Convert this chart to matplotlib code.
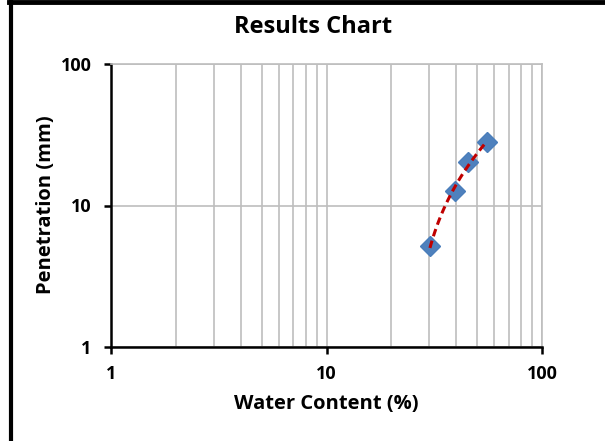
import numpy as np
import matplotlib
matplotlib.use('Agg')
import matplotlib.pyplot as plt
from matplotlib.lines import Line2D
from matplotlib.ticker import LogLocator, FixedLocator, NullFormatter

# data
water = [30.2, 39.5, 45.5, 55.4]
penetration = [5.2, 12.6, 20.3, 28.0]
x_ticks = [1, 10, 100]
y_ticks = [1, 10, 100]

plt.rcParams['font.family'] = ['Open Sans', 'DejaVu Sans']
plt.rcParams['font.weight'] = 'bold'

fig = plt.figure(figsize=(6.05, 4.41), dpi=100)
ax = fig.add_axes([111/605, 1 - 347/441, 431/605, 283/441])

ax.set_xscale('log')
ax.set_yscale('log')
ax.set_xlim(1, 100)
ax.set_ylim(1, 100)

grid_c = '#BEBEBE'
ax.xaxis.set_major_locator(FixedLocator(x_ticks))
ax.yaxis.set_major_locator(FixedLocator(y_ticks))
ax.xaxis.set_minor_locator(LogLocator(base=10, subs=np.arange(2, 10)))
ax.xaxis.set_minor_formatter(NullFormatter())
ax.yaxis.set_minor_locator(FixedLocator([]))
ax.set_xticklabels([str(t) for t in x_ticks])
ax.set_yticklabels([str(t) for t in y_ticks])
ax.grid(which='major', color=grid_c, linewidth=1.2)
ax.grid(which='minor', axis='x', color=grid_c, linewidth=1.2)
ax.set_axisbelow(True)

for s in ['top', 'right']:
    ax.spines[s].set_color(grid_c)
    ax.spines[s].set_linewidth(1.2)
for s in ['left', 'bottom']:
    ax.spines[s].set_color('black')
    ax.spines[s].set_linewidth(1.8)

ax.tick_params(which='major', direction='out', length=5, width=1.8,
               labelsize=13, colors='black')
ax.tick_params(axis='x', pad=8)
ax.tick_params(axis='y', pad=9)
ax.tick_params(which='minor', length=0)
for lab in ax.get_xticklabels() + ax.get_yticklabels():
    lab.set_fontweight('bold')

ax.plot(water, penetration, linestyle='none', marker='D', markersize=10,
        color='#4F81BD', markeredgecolor='#4A7EBB', zorder=3)

# linear trendline, drawn over the markers
coef = np.polyfit(water, penetration, 1)
xt = np.linspace(min(water), max(water), 100)
ax.plot(xt, np.polyval(coef, xt), color='#C00000', linestyle=(0, (2.5, 1.5)),
        linewidth=2.2, zorder=4)

fig.text(313/605, 1 - 27/441, 'Results Chart', ha='center', va='center',
         fontsize=17, fontweight='bold')
fig.text(326/605, 1 - 404/441, 'Water Content (%)', ha='center', va='center',
         fontsize=14.5, fontweight='bold')
fig.text(46/605, 1 - 205/441, 'Penetration (mm)', ha='center', va='center',
         fontsize=14.5, fontweight='bold', rotation=90)

# chart border (left and top only visible)
fig.add_artist(Line2D([11/605, 11/605], [0, 1], color='black', linewidth=3,
                      transform=fig.transFigure))
fig.add_artist(Line2D([9/605, 1], [1 - 2/441, 1 - 2/441], color='black',
                      linewidth=3.5, transform=fig.transFigure))

fig.savefig('out.png', dpi=100)
